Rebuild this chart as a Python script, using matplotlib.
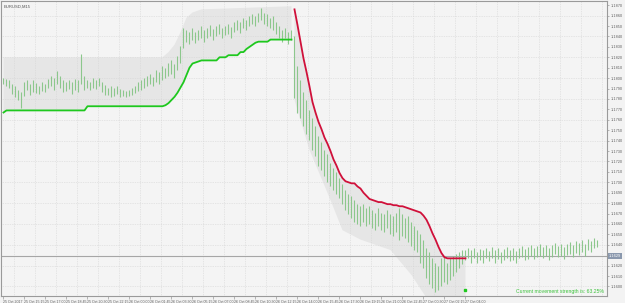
import numpy as np
import matplotlib.pyplot as plt

plt.rcParams['font.family'] = ['Liberation Sans', 'DejaVu Sans']

symbol = "EURUSD,M15"

# bar highs / lows in pips (price * 10000), one per 15-minute bar
high_pips = [11800, 11799, 11798, 11794, 11792, 11789, 11787, 11796, 11798, 11794,
             11798, 11795, 11792, 11796, 11794, 11799, 11802, 11800, 11807, 11802,
             11798, 11796, 11798, 11796, 11799, 11798, 11823, 11802, 11798, 11796,
             11800, 11798, 11800, 11796, 11793, 11791, 11792, 11791, 11792, 11790,
             11789, 11788, 11789, 11791, 11792, 11796, 11798, 11800, 11802, 11804,
             11801, 11808, 11806, 11812, 11810, 11815, 11817, 11814, 11821, 11831,
             11848, 11846, 11844, 11848, 11844, 11846, 11850, 11846, 11848, 11851,
             11847, 11850, 11852, 11848, 11850, 11852, 11849, 11854, 11856, 11854,
             11858, 11856, 11860, 11862, 11860, 11863, 11867, 11863, 11862, 11858,
             11860, 11854, 11850, 11846, 11848, 11844, 11846, 11840, 11812, 11798,
             11787, 11779, 11769, 11762, 11754, 11744, 11739, 11731, 11727, 11719,
             11714, 11710, 11704, 11698, 11693, 11689, 11687, 11683, 11679, 11677,
             11679, 11675, 11677, 11673, 11671, 11675, 11671, 11670, 11673, 11670,
             11668, 11671, 11675, 11670, 11666, 11668, 11662, 11658, 11654, 11650,
             11645, 11637, 11633, 11627, 11623, 11620, 11627, 11629, 11623, 11627,
             11629, 11631, 11633, 11635, 11635, 11637, 11635, 11637, 11633, 11636,
             11635, 11637, 11634, 11638, 11635, 11637, 11633, 11636, 11638, 11635,
             11637, 11634, 11637, 11639, 11636, 11638, 11640, 11637, 11639, 11641,
             11638, 11640, 11637, 11640, 11642, 11639, 11641, 11638, 11641, 11643,
             11640, 11644, 11642, 11645, 11641, 11646, 11644, 11647, 11645]
low_pips = [11794, 11792, 11791, 11785, 11782, 11779, 11771, 11783, 11789, 11784,
            11787, 11786, 11785, 11788, 11787, 11791, 11792, 11789, 11794, 11791,
            11787, 11788, 11790, 11785, 11789, 11787, 11794, 11789, 11791, 11789,
            11791, 11790, 11792, 11787, 11784, 11784, 11782, 11783, 11785, 11782,
            11783, 11782, 11783, 11784, 11786, 11788, 11789, 11791, 11792, 11794,
            11792, 11796, 11794, 11798, 11800, 11802, 11804, 11800, 11808, 11815,
            11829, 11835, 11833, 11837, 11834, 11837, 11839, 11835, 11839, 11840,
            11837, 11840, 11842, 11839, 11841, 11842, 11839, 11844, 11846, 11843,
            11848, 11846, 11850, 11852, 11850, 11854, 11856, 11852, 11850, 11848,
            11846, 11842, 11839, 11835, 11839, 11833, 11837, 11781, 11767, 11762,
            11754, 11746, 11741, 11731, 11725, 11716, 11712, 11706, 11700, 11696,
            11693, 11689, 11685, 11679, 11673, 11670, 11666, 11662, 11660, 11658,
            11662, 11658, 11660, 11656, 11654, 11658, 11654, 11652, 11656, 11650,
            11648, 11652, 11645, 11648, 11647, 11643, 11639, 11635, 11633, 11623,
            11618, 11608, 11602, 11599, 11595, 11597, 11600, 11604, 11602, 11606,
            11610, 11614, 11618, 11622, 11625, 11627, 11623, 11627, 11623, 11625,
            11623, 11627, 11624, 11627, 11623, 11626, 11623, 11625, 11627, 11624,
            11625, 11623, 11627, 11628, 11625, 11626, 11629, 11626, 11628, 11629,
            11627, 11629, 11625, 11628, 11631, 11628, 11629, 11626, 11630, 11631,
            11628, 11632, 11630, 11633, 11629, 11635, 11633, 11637, 11638]

# trailing support (green) for bars 0..96
support_pips = ([11767] + [11769] * 27 + [11773] * 26 +
                [11774, 11776, 11779, 11782, 11786, 11791, 11796, 11803, 11810,
                 11814, 11815, 11816] +
                [11817] * 6 + [11820] * 3 + [11822] * 4 + [11825] * 2 +
                [11828, 11830, 11832, 11834] + [11835] * 4 + [11837] * 8)

# trailing resistance (red) for bars 97..154
resist_start = 97
resist_pips = ([11866, 11851, 11835, 11819, 11806, 11792, 11777, 11767, 11758, 11751,
                11743, 11737, 11730, 11722, 11716, 11709, 11704, 11701, 11700, 11699,
                11699, 11696, 11694, 11690, 11687, 11684, 11683, 11682, 11681, 11681,
                11680, 11679, 11679, 11678, 11678, 11677, 11677, 11676, 11675, 11674,
                11673, 11672, 11671, 11668, 11664, 11658, 11651, 11645, 11638, 11632,
                11628] + [11627] * 7)

# outer edges of the shaded channel
band1_idx = [0, 53, 55, 57, 59, 61, 63, 66, 96]
band1_upper = [11820, 11820, 11825, 11832, 11844, 11858, 11863, 11866, 11869]
band2_idx = [97, 102, 109, 113, 119, 129, 136, 141, 154]
band2_lower = [11779, 11731, 11683, 11654, 11645, 11635, 11611, 11589, 11589]

bid_price = 1.1629
signal_bar = 154
signal_price = 1.1597
strength = 63.25

date_ticks = list(range(0, 155, 7))
date_labels = ["25 Oct 2017", "25 Oct 15:15", "25 Oct 17:00", "25 Oct 18:45",
               "25 Oct 20:30", "25 Oct 22:15", "26 Oct 00:00", "26 Oct 01:45",
               "26 Oct 03:30", "26 Oct 05:15", "26 Oct 07:00", "26 Oct 08:45",
               "26 Oct 10:30", "26 Oct 12:15", "26 Oct 14:00", "26 Oct 15:45",
               "26 Oct 17:30", "26 Oct 19:15", "26 Oct 21:00", "26 Oct 22:45",
               "27 Oct 00:30", "27 Oct 02:15", "27 Oct 04:00"]

high = np.array(high_pips) / 10000
low = np.array(low_pips) / 10000
support = np.array(support_pips) / 10000
resist = np.array(resist_pips) / 10000
bars = np.arange(len(high))

fig = plt.figure(figsize=(6.25, 3.03), dpi=100, facecolor="#f3f3f3")
ax = fig.add_axes([1 / 625, 7 / 303, 606 / 625, 295 / 303])
ax.set_facecolor("#f4f4f4")

# shaded channel
xs = band1_idx + list(range(len(support)))[::-1]
ys = list(np.array(band1_upper) / 10000) + list(support[::-1])
ax.fill(xs, ys, color="#e6e6e6", lw=0, zorder=0.5)
r_idx = list(range(resist_start, resist_start + len(resist)))
xs = r_idx + band2_idx[::-1]
ys = list(resist) + list(np.array(band2_lower[::-1]) / 10000)
ax.fill(xs, ys, color="#e6e6e6", lw=0, zorder=0.5)

# grid
for g in np.arange(3.5, 201, 7):
    ax.axvline(g, color="#d4d4d4", lw=0.5, ls=(0, (1, 1.5)), zorder=0.6)
for g in np.arange(11600, 11871, 20) / 10000:
    ax.axhline(g, color="#d4d4d4", lw=0.5, ls=(0, (1, 1.5)), zorder=0.6)

ax.vlines(bars, low, high, color="#8cc78c", lw=0.8, zorder=2)
ax.plot(np.arange(len(support)), support, color="#1ec81e", lw=1.3, zorder=3)
ax.plot(r_idx, resist, color="#d0103a", lw=1.3, zorder=3)
ax.axhline(bid_price, color="#a6a6a6", lw=0.8, zorder=1.5)
ax.plot([signal_bar], [signal_price], "s", color="#1ec81e", ms=1.8, zorder=4)

ax.set_xlim(-0.833, 201.17)
ax.set_ylim(1.159084, 1.187404)

for s in ax.spines.values():
    s.set_color("#9a9a9a")
    s.set_linewidth(0.8)

ax.yaxis.tick_right()
ticks = [t for t in np.arange(11600, 11871, 10) if t != 11630]
ax.set_yticks(np.array(ticks) / 10000)
ax.set_yticklabels(["%.4f" % (t / 10000) for t in ticks])
ax.tick_params(axis="y", length=1.5, width=0.5, pad=1.0, labelsize=2.8,
               colors="#9a9a9a", labelcolor="#606060")

ax.set_xticks(date_ticks)
ax.set_xticklabels(date_labels)
ax.tick_params(axis="x", length=2, width=0.5, pad=0.8, labelsize=2.6,
               colors="#9a9a9a", labelcolor="#606060")
for lab in ax.get_xticklabels():
    lab.set_ha("left")

ax.text(1.003, bid_price, "%.4f" % bid_price, transform=ax.get_yaxis_transform(),
        fontsize=2.8, color="white", va="center", ha="left",
        bbox=dict(boxstyle="square,pad=0.2", fc="#8a98ad", ec="none"))

ax.text(0.004, 0.988, symbol, transform=ax.transAxes, fontsize=3.0,
        color="#505050", va="top", ha="left")
ax.text(0.995, 0.008, "Current movement strength is: %.2f%%" % strength,
        transform=ax.transAxes, fontsize=3.7, color="#3dc23d", va="bottom", ha="right")

fig.savefig("out.png", dpi=100, facecolor=fig.get_facecolor())
